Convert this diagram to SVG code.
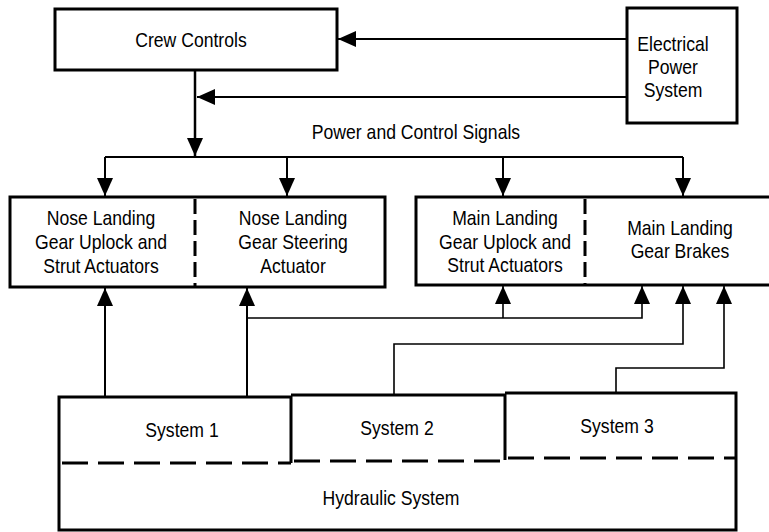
<svg xmlns="http://www.w3.org/2000/svg" width="769" height="532" viewBox="0 0 769 532">
<style>
text{font-family:"Liberation Sans",Arial,sans-serif;font-size:20px;fill:#000;text-anchor:middle}
.box{fill:#fff;stroke:#000;stroke-width:3}
.ln{fill:none;stroke:#000;stroke-width:2}
.th{fill:none;stroke:#000;stroke-width:1.6}
.dv{fill:none;stroke:#000;stroke-width:3;stroke-dasharray:15 6}
.dh{fill:none;stroke:#000;stroke-width:3;stroke-dasharray:26 10}
.sol{fill:none;stroke:#000;stroke-width:3}
</style>
<defs>
<marker id="ah" markerUnits="userSpaceOnUse" markerWidth="18" markerHeight="16" refX="18" refY="8" orient="auto">
<path d="M0,0 L18,8 L0,16 z" fill="#000"/>
</marker>
</defs>
<rect width="769" height="532" fill="#fff"/>
<g id="connectors">
<path class="ln" d="M627,39 H338" marker-end="url(#ah)"/>
<path class="ln" d="M627,97 H197" marker-end="url(#ah)"/>
<path class="ln" d="M195,70 V156" style="stroke-width:2.5" marker-end="url(#ah)"/>
<path class="ln" d="M105,157 H683"/>
<path class="ln" d="M105,157 V196" marker-end="url(#ah)"/>
<path class="ln" d="M287,157 V196" marker-end="url(#ah)"/>
<path class="ln" d="M503,157 V196" marker-end="url(#ah)"/>
<path class="ln" d="M683,157 V196" marker-end="url(#ah)"/>
<path class="ln" d="M105,397 V288" marker-end="url(#ah)"/>
<path class="ln" d="M247,396 V288" marker-end="url(#ah)"/>
<path class="th" d="M247,318 H642 V286" marker-end="url(#ah)"/>
<path class="th" d="M503,318 V286" marker-end="url(#ah)"/>
<path class="th" d="M394,395 V344 H683 V286" marker-end="url(#ah)"/>
<path class="th" d="M616,393 V368 H724 V286" marker-end="url(#ah)"/>
</g>
<g id="crew-controls">
<rect class="box" x="55" y="9" width="282" height="61"/>
<text transform="translate(191,47) scale(.88,1)">Crew Controls</text>
</g>
<g id="electrical-power-system">
<rect class="box" x="627" y="8" width="110" height="115"/>
<text transform="translate(673,51) scale(.88,1)">Electrical</text>
<text transform="translate(673,74) scale(.88,1)">Power</text>
<text transform="translate(673,97) scale(.88,1)">System</text>
</g>
<g id="nose-landing-gear">
<rect class="box" x="10" y="197" width="375" height="90"/>
<line class="dv" x1="195" y1="199" x2="195" y2="286"/>
<text transform="translate(101,225) scale(.88,1)">Nose Landing</text>
<text transform="translate(101,249) scale(.88,1)">Gear Uplock and</text>
<text transform="translate(101,273) scale(.88,1)">Strut Actuators</text>
<text transform="translate(293,225) scale(.88,1)">Nose Landing</text>
<text transform="translate(293,249) scale(.88,1)">Gear Steering</text>
<text transform="translate(293,273) scale(.88,1)">Actuator</text>
</g>
<g id="main-landing-gear">
<rect class="box" x="416" y="197" width="360" height="88"/>
<line class="dv" x1="585" y1="199" x2="585" y2="284"/>
<text transform="translate(505,225) scale(.88,1)">Main Landing</text>
<text transform="translate(505,249) scale(.88,1)">Gear Uplock and</text>
<text transform="translate(505,272) scale(.88,1)">Strut Actuators</text>
<text transform="translate(680,235) scale(.88,1)">Main Landing</text>
<text transform="translate(680,258) scale(.88,1)">Gear Brakes</text>
</g>
<g id="hydraulic-system">
<path class="sol" d="M59,463 V397 H291 V463"/>
<path class="sol" d="M291,395 H505 V460"/>
<path class="sol" d="M505,393 H736 V458"/>
<path class="sol" d="M59,463 V530 H736 V458"/>
<line class="dh" x1="62" y1="463" x2="291" y2="463"/>
<line class="dh" x1="294" y1="461" x2="505" y2="461"/>
<line class="dh" x1="508" y1="458" x2="736" y2="458"/>
<text transform="translate(182,437) scale(.88,1)">System 1</text>
<text transform="translate(397,435) scale(.88,1)">System 2</text>
<text transform="translate(617,433) scale(.88,1)">System 3</text>
<text transform="translate(391,505) scale(.88,1)">Hydraulic System</text>
</g>
<text transform="translate(416,139) scale(.88,1)">Power and Control Signals</text>
</svg>
